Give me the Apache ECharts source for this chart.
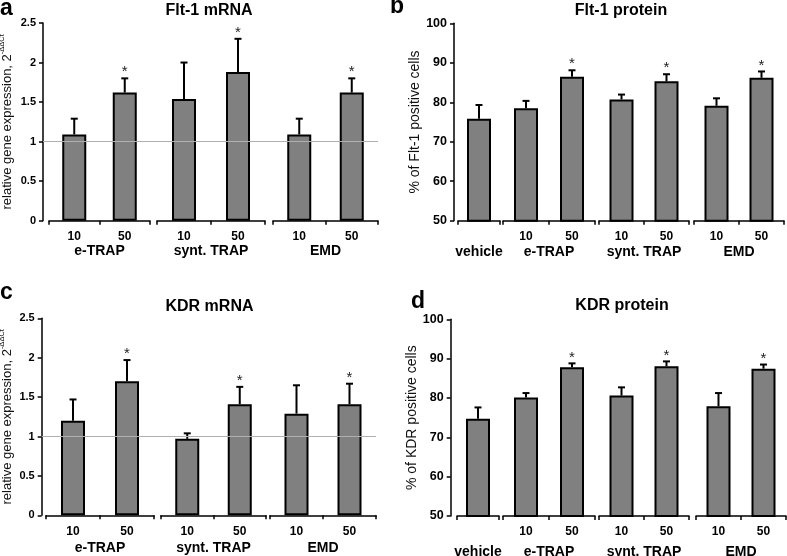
<!DOCTYPE html>
<html>
<head>
<meta charset="utf-8">
<script src="https://cdn.jsdelivr.net/npm/echarts@6/dist/echarts.min.js"></script>
<style>
html,body{margin:0;padding:0;background:#fff;}
#chart{width:787px;height:556px;}
</style>
</head>
<body>
<div id="chart"></div>
<script>
// ---------- data ----------
const mrnaGroups = ['e-TRAP', 'synt. TRAP', 'EMD'];
const proteinGroups = ['vehicle', 'e-TRAP', 'synt. TRAP', 'EMD'];
const doseLabels = ['10', '50'];
const mrnaYTicks = [0, 0.5, 1, 1.5, 2, 2.5];
const proteinYTicks = [50, 60, 70, 80, 90, 100];
const mrnaBaseline = 1;

const flt1MrnaMean = [1.09, 1.62, 1.54, 1.88, 1.09, 1.62];
const flt1MrnaErr  = [0.20, 0.18, 0.46, 0.42, 0.20, 0.18];
const flt1MrnaSig  = [false, true, false, true, false, true];

const kdrMrnaMean = [1.20, 1.70, 0.97, 1.41, 1.29, 1.41];
const kdrMrnaErr  = [0.27, 0.27, 0.07, 0.22, 0.36, 0.26];
const kdrMrnaSig  = [false, true, false, true, false, true];

const flt1ProtMean = [75.8, 78.5, 86.45, 80.7, 85.3, 79.1, 86.2];
const flt1ProtErr  = [3.5, 1.85, 1.65, 1.25, 1.8, 1.9, 1.6];
const flt1ProtSig  = [false, false, true, false, true, false, true];

const kdrProtMean = [74.7, 80.15, 87.8, 80.6, 88.05, 77.9, 87.45];
const kdrProtErr  = [2.9, 1.1, 1.0, 2.1, 1.25, 3.35, 1.05];
const kdrProtSig  = [false, false, true, false, true, false, true];

// ---------- layout / style ----------
const FONT = '"Liberation Sans", Arial, Helvetica, sans-serif';
const BLACK = '#000';
const panels = [
  { letter: 'a', title: 'Flt-1 mRNA', titleX: 209, titleY: 3, letterX: 0, letterY: -3,
    axisX: 43, top: 23, bottom: 220.7, right: 378,
    segs: [[49, 150], [157, 265], [273, 378]], groups: mrnaGroups, ticks: mrnaYTicks,
    mean: flt1MrnaMean, err: flt1MrnaErr, sig: flt1MrnaSig, ref: true, labelSize: 11,
    yName: '{b|relative gene expression, 2}{s|-ΔΔCt}', yNameGap: 29, yNameSize: 13, nameGap: 23 },
  { letter: 'b', title: 'Flt-1 protein', titleX: 621, titleY: 3, letterX: 390, letterY: -5,
    axisX: 454, top: 23.3, bottom: 220.7, right: 783,
    segs: [[458, 500], [503, 595], [599, 689], [694, 784]], groups: proteinGroups, ticks: proteinYTicks,
    mean: flt1ProtMean, err: flt1ProtErr, sig: flt1ProtSig, ref: false, labelSize: 12.5,
    yName: '{b|% of Flt-1 positive cells}', yNameGap: 31, yNameSize: 14, nameGap: 24 },
  { letter: 'c', title: 'KDR mRNA', titleX: 209.5, titleY: 299, letterX: 0, letterY: 281,
    axisX: 41.7, top: 318.3, bottom: 515.3, right: 376,
    segs: [[46, 154], [161, 266], [270, 376]], groups: mrnaGroups, ticks: mrnaYTicks,
    mean: kdrMrnaMean, err: kdrMrnaErr, sig: kdrMrnaSig, ref: true, labelSize: 11,
    yName: '{b|relative gene expression, 2}{s|-ΔΔCt}', yNameGap: 28, yNameSize: 13, nameGap: 26 },
  { letter: 'd', title: 'KDR protein', titleX: 622, titleY: 298, letterX: 411, letterY: 290,
    axisX: 450.7, top: 319.3, bottom: 516, right: 786,
    segs: [[457, 499], [503, 595], [599, 689], [696, 786]], groups: proteinGroups, ticks: proteinYTicks,
    mean: kdrProtMean, err: kdrProtErr, sig: kdrProtSig, ref: false, labelSize: 12.5,
    yName: '{b|% of KDR positive cells}', yNameGap: 28, yNameSize: 14, nameGap: 29 }
];

const grids = [], xAxes = [], yAxes = [], series = [], titles = [];

function errRender(params, api) {
  const m = api.value(1), t = api.value(2), s = api.value(3);
  const p0 = api.coord([api.value(0), m]);
  const p1 = api.coord([api.value(0), t]);
  const children = [
    { type: 'line', shape: { x1: p0[0], y1: p0[1], x2: p1[0], y2: p1[1] }, style: { stroke: BLACK, lineWidth: 2 } },
    { type: 'line', shape: { x1: p1[0] - 3.5, y1: p1[1], x2: p1[0] + 3.5, y2: p1[1] }, style: { stroke: BLACK, lineWidth: 2 } }
  ];
  if (s) {
    children.push({ type: 'text', x: p1[0], y: p1[1] - 6,
      style: { text: '*', font: '15px ' + FONT, fill: '#222', align: 'center', verticalAlign: 'middle' } });
  }
  return { type: 'group', children };
}

panels.forEach(p => {
  const tmin = p.ticks[0], tmax = p.ticks[p.ticks.length - 1], tint = p.ticks[1] - p.ticks[0];
  titles.push({ text: p.title, left: p.titleX, top: p.titleY, textAlign: 'center', padding: 0,
    textStyle: { fontFamily: FONT, fontSize: 16, fontWeight: 'bold', color: BLACK } });
  titles.push({ text: p.letter, left: p.letterX, top: p.letterY, padding: 0,
    textStyle: { fontFamily: FONT, fontSize: 23, fontWeight: 'bold', color: BLACK } });

  // main grid carrying the visible y axis
  let gi = grids.length;
  grids.push({ left: p.axisX, top: p.top, width: p.right - p.axisX, height: p.bottom - p.top, outerBoundsMode: 'none' });
  xAxes.push({ gridIndex: gi, type: 'category', data: [''], show: false });
  yAxes.push({ gridIndex: gi, type: 'value', min: tmin, max: tmax, interval: tint,
    axisLine: { show: true, lineStyle: { color: BLACK, width: 1.5 } },
    axisTick: { show: true, inside: false, length: 4, lineStyle: { color: BLACK, width: 1.5 } },
    axisLabel: { color: BLACK, fontFamily: FONT, fontWeight: 'bold', fontSize: p.labelSize, margin: 7 },
    splitLine: { show: false },
    name: p.yName, nameLocation: 'middle', nameGap: p.yNameGap,
    nameTextStyle: { color: BLACK, fontFamily: FONT,
      rich: { b: { fontSize: p.yNameSize, fontFamily: FONT, color: '#111', lineHeight: 16, verticalAlign: 'bottom' },
              s: { fontSize: 7.5, fontFamily: FONT, color: '#111', lineHeight: 16, verticalAlign: 'top' } } } });
  if (p.ref) {
    series.push({ type: 'line', xAxisIndex: gi, yAxisIndex: gi, data: [], z: 1, silent: true,
      markLine: { silent: true, symbol: 'none', label: { show: false },
        lineStyle: { color: '#b0b0b0', type: 'solid', width: 1 }, data: [{ yAxis: mrnaBaseline }] } });
  }

  // group grids
  let k = 0;
  p.groups.forEach((g, j) => {
    const cats = g === 'vehicle' ? [''] : doseLabels;
    const seg = p.segs[j];
    const gj = grids.length;
    grids.push({ left: seg[0], top: p.top, width: seg[1] - seg[0], height: p.bottom - p.top, outerBoundsMode: 'none' });
    xAxes.push({ gridIndex: gj, type: 'category', data: cats, boundaryGap: true,
      axisLine: { show: true, lineStyle: { color: BLACK, width: 1.5 } },
      axisTick: { show: true, inside: false, length: 4, alignWithLabel: false, lineStyle: { color: BLACK, width: 1.5 } },
      axisLabel: { color: BLACK, fontFamily: FONT, fontWeight: 'bold', fontSize: 12, margin: 10, interval: 0 },
      name: g, nameLocation: 'middle', nameGap: p.nameGap,
      nameTextStyle: { color: BLACK, fontFamily: FONT, fontWeight: 'bold', fontSize: 14 } });
    yAxes.push({ gridIndex: gj, type: 'value', min: tmin, max: tmax, interval: tint, show: false });
    const means = p.mean.slice(k, k + cats.length);
    series.push({ type: 'bar', xAxisIndex: gj, yAxisIndex: gj, data: means, barWidth: 24, z: 2,
      itemStyle: { color: '#808080', borderColor: BLACK, borderWidth: 2 } });
    series.push({ type: 'custom', xAxisIndex: gj, yAxisIndex: gj, z: 3, renderItem: errRender,
      data: cats.map((c, i) => [i, p.mean[k + i], p.mean[k + i] + p.err[k + i], p.sig[k + i] ? 1 : 0]) });
    k += cats.length;
  });
});

const chart = echarts.init(document.getElementById('chart'), null, { renderer: 'canvas' });
chart.setOption({
  animation: false,
  backgroundColor: '#fff',
  textStyle: { fontFamily: FONT },
  title: titles,
  grid: grids,
  xAxis: xAxes,
  yAxis: yAxes,
  series: series
});
</script>
</body>
</html>
